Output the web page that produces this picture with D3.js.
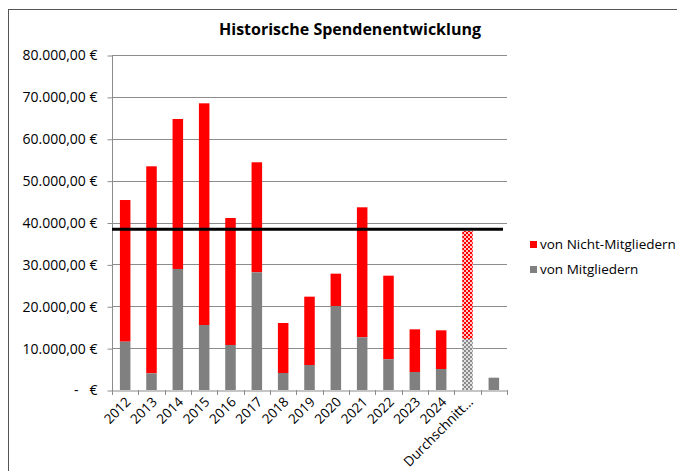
<!DOCTYPE html>
<html>
<head>
<meta charset="utf-8">
<script src="https://cdn.jsdelivr.net/npm/d3@7"></script>
<style>
  body { margin: 0; background: #fff; }
  text { font-family: "Open Sans", sans-serif; fill: #000; }
</style>
</head>
<body>
<div id="d3-container"></div>
<script>
// data
let categories = ["2012", "2013", "2014", "2015", "2016", "2017", "2018", "2019",
  "2020", "2021", "2022", "2023", "2024", "Durchschnitt…", " "];
let mitglieder = [11540, 3980, 28900, 15520, 10750, 28100, 4060, 5970,
  20060, 12580, 7330, 4300, 5010, 12180, 2940];
let gesamt = [45370, 53420, 64720, 68460, 41080, 54380, 16000, 22290,
  27780, 43630, 27300, 14490, 14250, 37970, 2940];
let yTicks = [0, 10000, 20000, 30000, 40000, 50000, 60000, 70000, 80000];
let durchschnittLinie = 38370;
let seriesNames = ["von Nicht-Mitgliedern", "von Mitgliedern"];

let W = 677, H = 471;
let margin = { top: 55, left: 112, right: 170, bottom: 81 };

let svg = d3.select('#d3-container')
  .append('svg')
  .attr('width', W)
  .attr('height', H);

// checker patterns for the average bar
let defs = svg.append('defs');
function checker(id, c1, c2) {
  let p = defs.append('pattern').attr('id', id)
    .attr('width', 4).attr('height', 4)
    .attr('patternUnits', 'userSpaceOnUse');
  p.append('rect').attr('width', 4).attr('height', 4).attr('fill', c1);
  p.append('rect').attr('width', 2).attr('height', 2).attr('fill', c2);
  p.append('rect').attr('x', 2).attr('y', 2).attr('width', 2).attr('height', 2).attr('fill', c2);
}
checker('redCheck', '#ff0000', '#ffc4c4');
checker('grayCheck', '#8a8a8a', '#e0e0e0');

// outer chart frame
svg.append('rect')
  .attr('x', 8.5).attr('y', 9.5)
  .attr('width', W).attr('height', H)
  .attr('fill', 'none')
  .attr('stroke', '#555');

svg.append('text')
  .attr('x', 350).attr('y', 35)
  .attr('text-anchor', 'middle')
  .style('font-size', '16px')
  .style('font-weight', 'bold')
  .text('Historische Spendenentwicklung');

let x = d3.scaleBand()
  .domain(categories)
  .range([margin.left, W - margin.right])
  .padding(0);

let y = d3.scaleLinear()
  .domain([0, 80000])
  .range([H - margin.bottom, margin.top]);

// gridlines
svg.append('g')
  .selectAll('line')
  .data(yTicks.slice(1))
  .enter().append('line')
  .attr('x1', margin.left).attr('x2', W - margin.right)
  .attr('y1', d => Math.round(y(d)) + 0.5)
  .attr('y2', d => Math.round(y(d)) + 0.5)
  .attr('stroke', '#8c8c8c');

let locale = d3.formatLocale({ decimal: ",", thousands: ".", grouping: [3], currency: ["", " €"] });
let fmt = locale.format("$,.2f");

// y axis
let yAxis = svg.append('g')
  .attr('transform', 'translate(' + (margin.left + 0.5) + ',0.5)')
  .call(d3.axisLeft(y).tickValues(yTicks).tickSize(5).tickPadding(10)
    .tickFormat(d => d === 0 ? '-   €' : fmt(d)));
yAxis.selectAll('text').style('font-size', '14px').style('white-space', 'pre');
yAxis.selectAll('line, path').attr('stroke', '#8c8c8c');
yAxis.select('.domain').attr('d', 'M0,' + y(80000) + 'V' + y(0));

// bars
let w = x.bandwidth() * 0.4;
let avgIdx = categories.indexOf("Durchschnitt…");

svg.append('g').selectAll('rect')
  .data(categories)
  .enter().append('rect')
  .attr('x', d => x(d) + (x.bandwidth() - w) / 2)
  .attr('width', w)
  .attr('y', (d, i) => y(gesamt[i]))
  .attr('height', (d, i) => y(mitglieder[i]) - y(gesamt[i]))
  .attr('fill', (d, i) => i === avgIdx ? 'url(#redCheck)' : '#ff0000');

svg.append('g').selectAll('rect')
  .data(categories)
  .enter().append('rect')
  .attr('x', d => x(d) + (x.bandwidth() - w) / 2)
  .attr('width', w)
  .attr('y', (d, i) => y(mitglieder[i]))
  .attr('height', (d, i) => y(0) - y(mitglieder[i]))
  .attr('fill', (d, i) => i === avgIdx ? 'url(#grayCheck)' : '#808080');

// x axis
let xAxis = svg.append('g')
  .attr('transform', 'translate(0,' + (y(0) + 0.5) + ')')
  .call(d3.axisBottom(x).tickSize(0).tickPadding(0));
xAxis.select('.domain').attr('stroke', '#8c8c8c');
xAxis.selectAll('.tick line').remove();
xAxis.selectAll('.tick text')
  .style('font-size', '13.5px')
  .attr('text-anchor', 'end')
  .attr('dy', '0.35em')
  .attr('transform', 'translate(3,9) rotate(-45)');

// tick marks at band borders
svg.append('g').selectAll('line')
  .data(categories.concat(['end']))
  .enter().append('line')
  .attr('x1', (d, i) => Math.round(i < categories.length ? x(d) : x.range()[1]) + 0.5)
  .attr('x2', (d, i) => Math.round(i < categories.length ? x(d) : x.range()[1]) + 0.5)
  .attr('y1', y(0)).attr('y2', y(0) + 5)
  .attr('stroke', '#8c8c8c');

// average line
svg.append('line')
  .attr('x1', margin.left).attr('x2', W - margin.right - 4)
  .attr('y1', y(durchschnittLinie)).attr('y2', y(durchschnittLinie))
  .attr('stroke', '#000')
  .attr('stroke-width', 3);

// legend
let legend = svg.append('g').attr('transform', 'translate(530,241)');
let legColors = ['#ff0000', '#808080'];
seriesNames.forEach(function(name, i) {
  legend.append('rect')
    .attr('x', 0).attr('y', i * 25)
    .attr('width', 7).attr('height', 7)
    .attr('fill', legColors[i]);
  legend.append('text')
    .attr('x', 10).attr('y', i * 25 + 8)
    .style('font-size', '13.5px')
    .text(name);
});
</script>
</body>
</html>
